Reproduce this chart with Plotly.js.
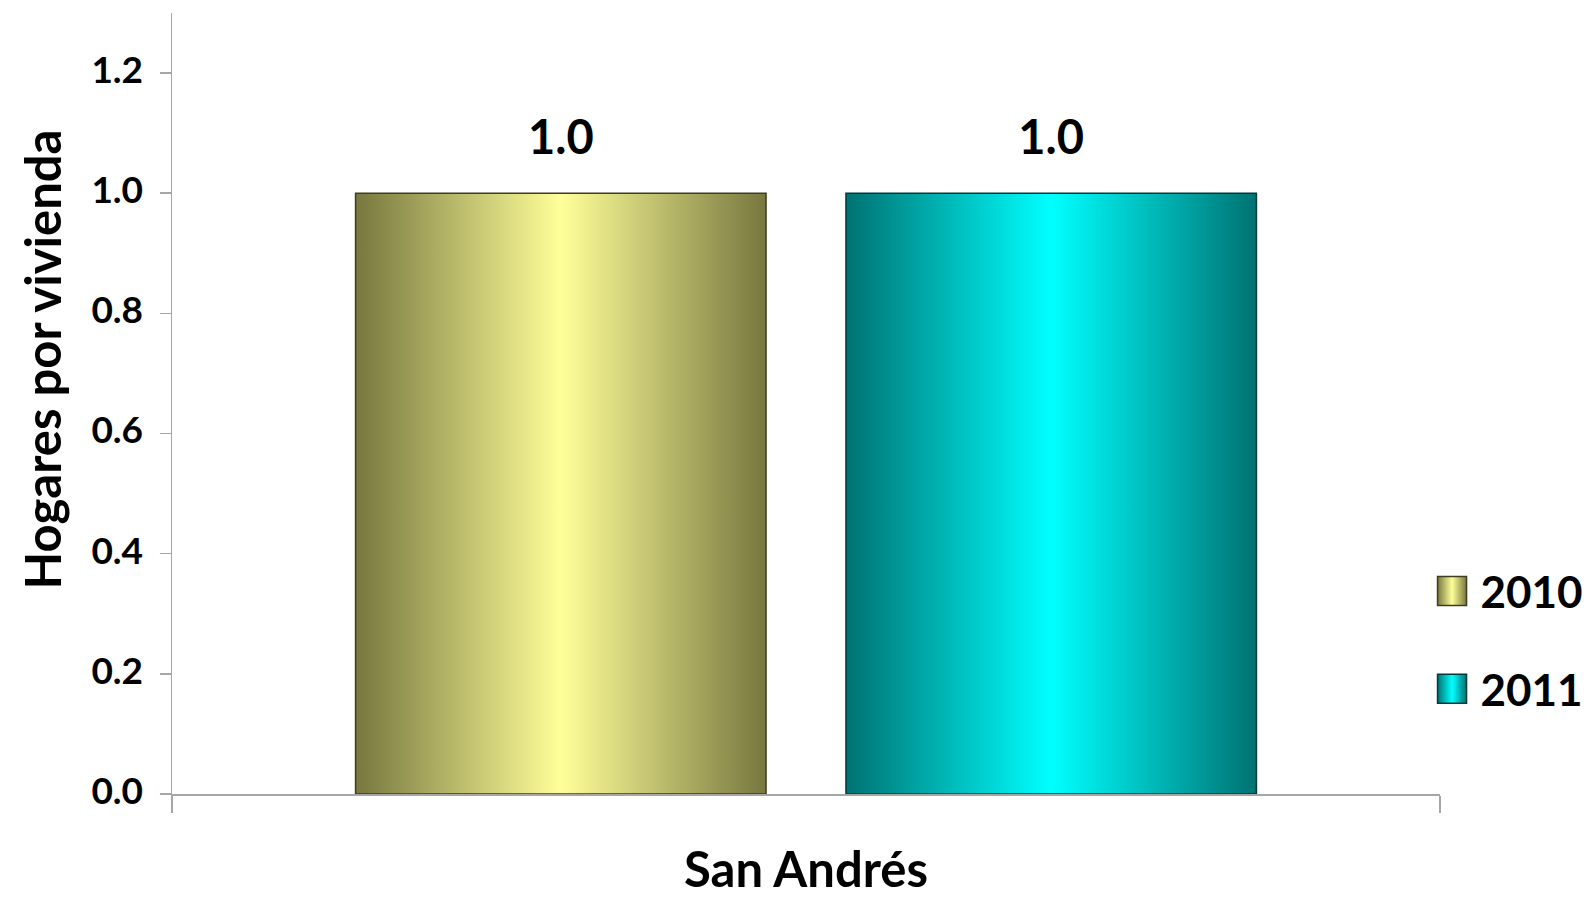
<!DOCTYPE html>
<html>
<head>
<meta charset="utf-8">
<script src="https://cdn.plot.ly/plotly-3.0.1.min.js"></script>
<style>
html,body{margin:0;padding:0;background:#fff;}
#chart{width:1587px;height:898px;}
</style>
</head>
<body>
<div id="chart"></div>
<script>
const categories = ['San Andrés'];
const seriesNames = ['2010', '2011'];
const values2010 = [1.0];
const values2011 = [1.0];
const yTickVals = [0, 0.2, 0.4, 0.6, 0.8, 1.0, 1.2];

const FONT = 'Lato, "Open Sans", "DejaVu Sans", sans-serif';
const gradients = {
  g2010: {edge: '#77773f', mid: '#ffff99', line: '#3d3d20'},
  g2011: {edge: '#007272', mid: '#00ffff', line: '#003a3a'}
};

const traces = [
  {type: 'bar', name: seriesNames[0], x: categories, y: values2010, legendgroup: 'a',
   marker: {color: '#c8c870', line: {color: gradients.g2010.line, width: 1.5}},
   texttemplate: '%{y:.1f}', textposition: 'outside', cliponaxis: false,
   textfont: {family: FONT, size: 47, color: '#000', weight: 700}},
  {type: 'bar', name: seriesNames[1], x: categories, y: values2011, legendgroup: 'b',
   marker: {color: '#00c0c0', line: {color: gradients.g2011.line, width: 1.5}},
   texttemplate: '%{y:.1f}', textposition: 'outside', cliponaxis: false,
   textfont: {family: FONT, size: 47, color: '#000', weight: 700}}
];

const layout = {
  width: 1587, height: 898,
  paper_bgcolor: '#fff', plot_bgcolor: '#fff',
  margin: {l: 172, r: 147, t: 13, b: 104, pad: 0, autoexpand: false},
  barmode: 'group', bargap: 0.2265, bargroupgap: 0.163,
  font: {family: FONT, color: '#000', weight: 700},
  showlegend: true,
  legend: {xref: 'container', yref: 'container', x: 0.897, xanchor: 'left', y: 0.381, yanchor: 'top',
           traceorder: 'grouped', tracegroupgap: 37.5, itemwidth: 47,
           font: {family: FONT, size: 44, color: '#000', weight: 700},
           bgcolor: 'rgba(0,0,0,0)'},
  xaxis: {type: 'category', automargin: false, showline: true, linecolor: '#a6a6a6', linewidth: 1.5,
          ticks: 'outside', tickson: 'boundaries', ticklen: 17, tickcolor: '#a6a6a6', tickwidth: 1.5,
          tickfont: {family: FONT, size: 49, color: '#000', weight: 700},
          ticklabelstandoff: 33, showgrid: false, zeroline: false, fixedrange: true},
  yaxis: {range: [0, 1.3], automargin: false, tickvals: yTickVals, tickformat: '.1f',
          showline: true, linecolor: '#a6a6a6', linewidth: 1.5,
          ticks: 'outside', ticklen: 11, tickcolor: '#a6a6a6', tickwidth: 1.5,
          tickfont: {family: FONT, size: 37, color: '#000', weight: 700},
          ticklabelstandoff: 9, ticklabelshift: -3, showgrid: false, zeroline: false, fixedrange: true,
          title: {text: 'Hogares por vivienda', font: {family: FONT, size: 49, color: '#000', weight: 700}, standoff: 14}}
};

function addGradients(gd) {
  const svgNS = 'http://www.w3.org/2000/svg';
  gd.querySelectorAll('svg.main-svg').forEach(function(svg, si) {
    let defs = svg.querySelector('defs');
    if (!defs) { defs = document.createElementNS(svgNS, 'defs'); svg.insertBefore(defs, svg.firstChild); }
    Object.keys(gradients).forEach(function(k) {
      const id = k + '_' + si;
      if (svg.querySelector('#' + id)) return;
      const lg = document.createElementNS(svgNS, 'linearGradient');
      lg.setAttribute('id', id);
      lg.setAttribute('x1', '0'); lg.setAttribute('x2', '1'); lg.setAttribute('y1', '0'); lg.setAttribute('y2', '0');
      [[0, gradients[k].edge], [0.5, gradients[k].mid], [1, gradients[k].edge]].forEach(function(s) {
        const st = document.createElementNS(svgNS, 'stop');
        st.setAttribute('offset', s[0]);
        st.setAttribute('stop-color', s[1]);
        lg.appendChild(st);
      });
      defs.appendChild(lg);
    });
  });
  const keys = Object.keys(gradients);
  gd.querySelectorAll('.barlayer .trace.bars').forEach(function(tr, i) {
    tr.querySelectorAll('.point path').forEach(function(p) { p.style.fill = 'url(#' + keys[i] + '_0)'; });
    tr.querySelectorAll('text.bartext').forEach(function(t) {
      const tf = t.getAttribute('transform') || '';
      t.setAttribute('transform', 'translate(0,-26) ' + tf);
    });
  });
  const yt = gd.querySelector('.ytitle');
  if (yt) {
    const tf = yt.getAttribute('transform') || '';
    yt.setAttribute('transform', 'translate(0,-44) ' + tf);
  }
  const svgs = gd.querySelectorAll('svg.main-svg');
  let legIdx = 0;
  svgs.forEach(function(svg, si){ if (svg.querySelector('.legend')) legIdx = si; });
  gd.querySelectorAll('.legend .traces').forEach(function(tr, i) {
    tr.querySelectorAll('.legendpoints path').forEach(function(p) {
      p.setAttribute('d', 'M14.5,14.5H-14.5V-14.5H14.5Z');
      p.style.fill = 'url(#' + keys[i] + '_' + legIdx + ')';
      p.style.strokeWidth = '1.5px';
    });
  });
}

Plotly.newPlot('chart', traces, layout, {displayModeBar: false, staticPlot: true}).then(addGradients);
</script>
</body>
</html>
